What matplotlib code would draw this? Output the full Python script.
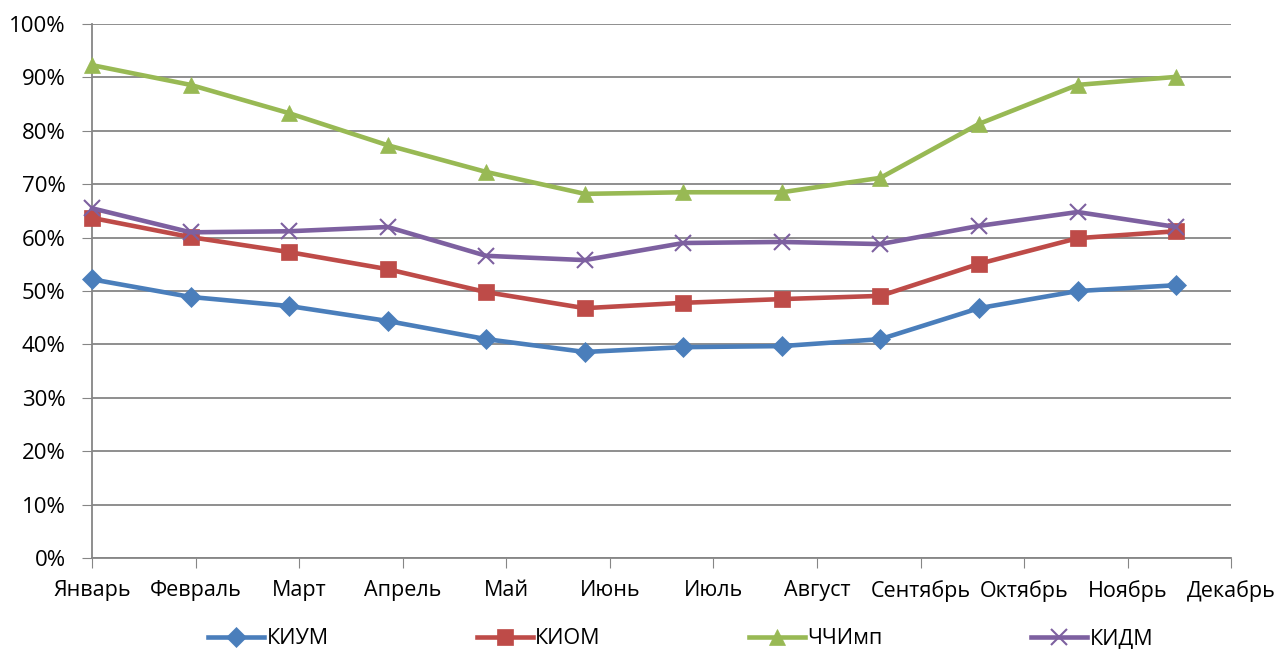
import matplotlib.pyplot as plt
import numpy as np

months = ["Январь", "Февраль", "Март", "Апрель", "Май", "Июнь", "Июль",
          "Август", "Сентябрь", "Октябрь", "Ноябрь", "Декабрь"]
kium = [52.2, 48.9, 47.2, 44.4, 41.0, 38.6, 39.5, 39.7, 41.0, 46.8, 50.0, 51.1]
kiom = [63.7, 60.1, 57.3, 54.1, 49.8, 46.8, 47.8, 48.5, 49.1, 55.1, 59.9, 61.2]
chchimp = [92.3, 88.6, 83.3, 77.3, 72.3, 68.2, 68.5, 68.5, 71.2, 81.3, 88.6, 90.1]
kidm = [65.5, 61.0, 61.2, 62.0, 56.6, 55.8, 59.0, 59.2, 58.8, 62.2, 64.8, 62.0]

plt.rcParams['font.family'] = ['Open Sans', 'DejaVu Sans']

fig = plt.figure(figsize=(12.82, 6.49), dpi=100)
ax = fig.add_axes([0.0718, 0.140, 0.8886, 0.823])

x = np.arange(len(months))
xmax = 11.56
series = [
    ("КИУМ", kium, "#4A7EBB", "D", 10),
    ("КИОМ", kiom, "#BE4B48", "s", 11),
    ("ЧЧИмп", chchimp, "#98B954", "^", 12),
    ("КИДМ", kidm, "#7D60A0", "x", 11),
]
for name, vals, color, marker, ms in series:
    ax.plot(x, vals, color=color, lw=3.3, marker=marker, markersize=ms,
            markeredgewidth=1.5 if marker == "x" else 0.5,
            markeredgecolor=color, label=name, clip_on=False, zorder=3)

ax.set_xlim(0, xmax)
ax.set_ylim(0, 100)
ax.set_yticks(np.arange(0, 101, 10))
ax.set_yticklabels([f"{v}%" for v in range(0, 101, 10)])
ax.set_xticks(np.linspace(0, xmax, 12))
ax.set_xticklabels(months)
ax.grid(axis="y", color="#868686", lw=1.3)
ax.set_axisbelow(True)
for s in ["top", "right"]:
    ax.spines[s].set_visible(False)
for s in ["left", "bottom"]:
    ax.spines[s].set_color("#868686")
    ax.spines[s].set_linewidth(1.3)
ax.tick_params(axis="x", length=7, color="#868686", labelsize=15.5, pad=9)
ax.tick_params(axis="y", length=7, color="#868686", labelsize=16, pad=12)

fig.legend(loc="lower center", bbox_to_anchor=(0.531, -0.03), ncol=4,
           frameon=False, fontsize=15.5, handlelength=2.6, columnspacing=6.9,
           handletextpad=0.1)

fig.savefig("out.png", dpi=100)
